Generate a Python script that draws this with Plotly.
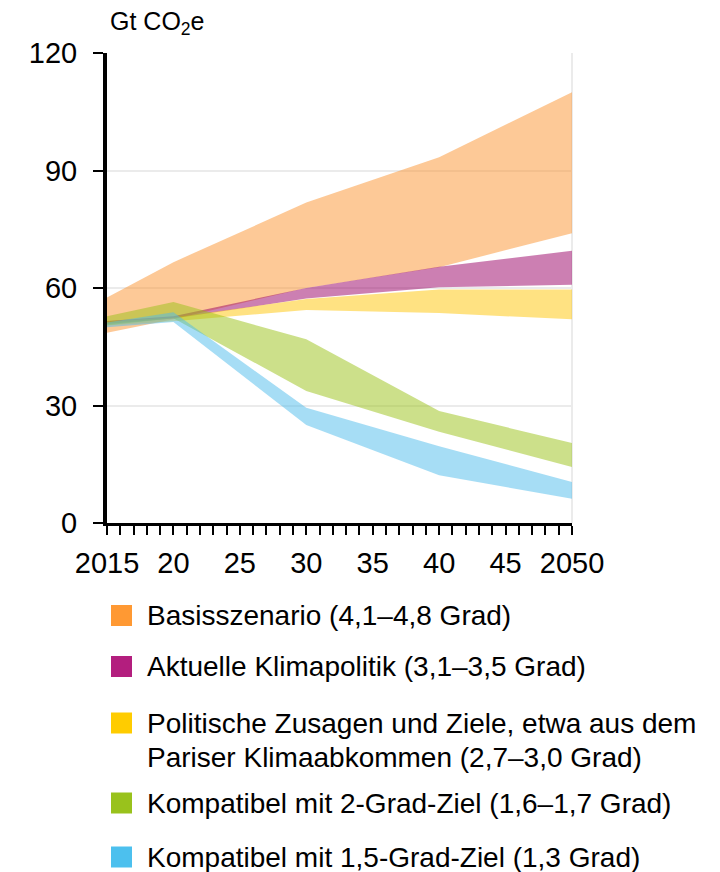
import plotly.graph_objects as go

years = [2015, 2020, 2030, 2040, 2050]

basis_low = [48.6, 52.0, 60.0, 65.3, 74.0]
basis_high = [57.6, 66.6, 81.8, 93.4, 110.0]
aktuell_low = [50.8, 52.2, 57.3, 60.2, 60.8]
aktuell_high = [51.6, 52.8, 60.0, 65.4, 69.5]
zusagen_low = [50.4, 51.5, 54.4, 53.6, 52.0]
zusagen_high = [51.4, 52.5, 57.2, 59.6, 59.6]
zwei_low = [50.5, 52.3, 33.7, 23.3, 14.3]
zwei_high = [52.8, 56.4, 46.9, 28.6, 20.4]
eins5_low = [50.0, 51.3, 25.0, 12.2, 6.2]
eins5_high = [51.2, 53.8, 29.4, 19.6, 10.5]

legend_labels = [
    ["Basisszenario (4,1–4,8 Grad)"],
    ["Aktuelle Klimapolitik (3,1–3,5 Grad)"],
    ["Politische Zusagen und Ziele, etwa aus dem", "Pariser Klimaabkommen (2,7–3,0 Grad)"],
    ["Kompatibel mit 2-Grad-Ziel (1,6–1,7 Grad)"],
    ["Kompatibel mit 1,5-Grad-Ziel (1,3 Grad)"],
]

x_tickvals = [2015, 2020, 2025, 2030, 2035, 2040, 2045, 2050]
x_ticktext = ["2015", "20", "25", "30", "35", "40", "45", "2050"]
y_tickvals = [0, 30, 60, 90, 120]

series = [
    (basis_low, basis_high, "rgba(251,147,47,0.5)", "#FF9933"),
    (aktuell_low, aktuell_high, "rgba(153,0,102,0.5)", "#B31E7E"),
    (zusagen_low, zusagen_high, "rgba(255,197,5,0.5)", "#FFCC00"),
    (zwei_low, zwei_high, "rgba(153,193,21,0.5)", "#99C21C"),
    (eins5_low, eins5_high, "rgba(77,187,235,0.5)", "#4CC0EE"),
]

FONT = "Liberation Sans"

fig = go.Figure()
for low, high, fill, _ in series:
    fig.add_trace(go.Scatter(x=years, y=low, mode="lines", line=dict(width=0),
                             showlegend=False, hoverinfo="skip"))
    fig.add_trace(go.Scatter(x=years, y=high, mode="lines", line=dict(width=0),
                             fill="tonexty", fillcolor=fill, showlegend=False,
                             hoverinfo="skip"))

# page has an 8px body margin; work in figure pixels
OFF = 8
FW, FH = 720 - OFF, 872 - OFF
L, R, T, B = 107 - OFF, 572 - OFF, 53 - OFF, 523 - OFF
W, H = R - L, B - T

def px(xp):
    return (xp - OFF - L) / W

def py(yp):
    return (B - (yp - OFF)) / H

shapes = [dict(type="line", xref="paper", yref="paper", x0=1, x1=1, y0=0, y1=1,
               line=dict(color="#EBEBEB", width=2), layer="below")]
annotations = [dict(text="Gt CO<sub>2</sub>e", xref="paper", yref="paper",
                    x=px(108), y=py(23), xanchor="left", yanchor="middle",
                    showarrow=False, font=dict(size=25, color="black", family=FONT))]

centers = [615.5, 666.5, 723, 803, 857]
for (low, high, fill, solid), labels, cy in zip(series, legend_labels, centers):
    shapes.append(dict(type="rect", xref="paper", yref="paper",
                       x0=px(111), x1=px(132), y0=py(cy - 10.5), y1=py(cy + 10.5),
                       fillcolor=solid, line=dict(width=0)))
    for i, lab in enumerate(labels):
        annotations.append(dict(text=lab, xref="paper", yref="paper",
                                x=px(145), y=py(cy + i * 34), xanchor="left",
                                yanchor="middle", showarrow=False,
                                font=dict(size=28, color="black", family=FONT)))

fig.update_layout(
    width=FW, height=FH,
    margin=dict(l=L, r=FW - R, t=T, b=FH - B),
    paper_bgcolor="white", plot_bgcolor="white",
    font=dict(family=FONT, size=28, color="black"),
    showlegend=False,
    shapes=shapes, annotations=annotations,
    xaxis=dict(range=[2015, 2050], tickvals=x_tickvals, ticktext=x_ticktext,
               showline=True, linecolor="black", linewidth=3,
               ticks="outside", ticklen=9, tickwidth=2, tickcolor="black",
               showgrid=False, zeroline=False, ticklabelstandoff=3,
               minor=dict(dtick=1, tick0=2015, ticks="outside", ticklen=9,
                          tickwidth=2, tickcolor="black", showgrid=False),
               tickfont=dict(size=29, family=FONT)),
    yaxis=dict(range=[0, 120], tickvals=y_tickvals,
               showline=True, linecolor="black", linewidth=4,
               ticks="outside", ticklen=10, tickwidth=2, tickcolor="black",
               showgrid=True, gridcolor="#EBEBEB", gridwidth=2, zeroline=False,
               ticklabelstandoff=10,
               tickfont=dict(size=29, family=FONT)),
)

fig.write_html("out.html")
